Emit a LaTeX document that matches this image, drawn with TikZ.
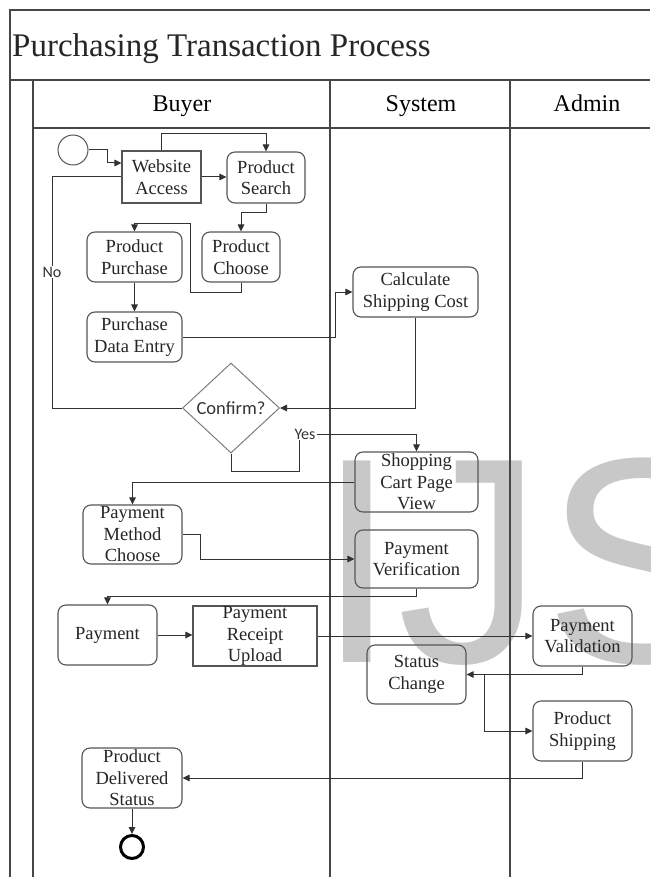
\documentclass[tikz,border=0pt]{standalone}
\usepackage{fontspec}
\setmainfont{Liberation Serif}
\newfontfamily\cfont{Carlito}
\newfontfamily\wmfont{Liberation Sans}
\usetikzlibrary{arrows.meta,shapes.geometric,calc}
\definecolor{ln}{RGB}{50,50,50}
\definecolor{bd}{RGB}{85,85,85}
\definecolor{lane}{RGB}{70,70,70}
\definecolor{wm}{RGB}{200,200,200}
\definecolor{dia}{RGB}{125,125,125}
\newcommand\ndtxt{\fontsize{18.5}{21.5}\selectfont}
\begin{document}
\begin{tikzpicture}[x=1pt,y=-1pt,
  box/.style={draw=bd,line width=1.1pt,rounded corners=8pt,align=center,inner sep=0pt,font=\ndtxt,text=black!85},
  sbox/.style={box,rounded corners=0pt},
  lanel/.style={draw=lane,line width=1.3pt},
  line/.style={draw=ln,line width=1pt},
  arr/.style={line,-{Triangle[length=7pt,width=6.5pt]}},
  lbl/.style={font=\cfont\fontsize{16}{16}\selectfont,text=black!80,inner sep=1pt},
  hdr/.style={font=\fontsize{24}{24}\selectfont,anchor=base,inner sep=0pt}]
\useasboundingbox (0,0) rectangle (650,877);
\fill[white] (0,0) rectangle (650,877);
% watermark
\begin{scope}
\clip (0,0) rectangle (650,877);
\node[anchor=base west,text=wm,font=\wmfont\fontsize{293}{293}\selectfont,inner sep=0pt] (wmk) at (316,662) {IJS};
\end{scope}
% frame and lanes
\draw[lanel] (650,10) -- (10,10) -- (10,877);
\draw[lanel] (10,80) -- (650,80);
\draw[lanel] (33,80) -- (33,877);
\draw[lanel] (33,128) -- (650,128);
\draw[lanel] (330,80) -- (330,877);
\draw[lanel] (510,80) -- (510,877);
\node[anchor=base west,font=\fontsize{33}{33}\selectfont,inner sep=0pt,text=black!85] (title) at (12,57) {Purchasing Transaction Process};
\node[hdr] (hbuyer) at (182,112) {Buyer};
\node[hdr] (hsystem) at (421,112) {System};
\node[hdr] (hadmin) at (587,112) {Admin};
% nodes
\node[circle,draw=bd,line width=1pt,minimum size=30pt,inner sep=0pt] (start) at (73,150) {};
\node[sbox,minimum width=79pt,minimum height=52pt] (wa) at (161.5,177) {Website\\Access};
\node[box,minimum width=78pt,minimum height=51pt] (ps) at (266,177.5) {Product\\Search};
\node[box,minimum width=78pt,minimum height=50pt] (pc) at (241,257) {Product\\Choose};
\node[box,minimum width=95pt,minimum height=50pt] (pp) at (134.5,257) {Product\\Purchase};
\node[box,minimum width=95pt,minimum height=50pt] (pde) at (134.5,337) {Purchase\\Data Entry};
\node[box,minimum width=125pt,minimum height=50pt] (csc) at (415.5,292) {Calculate\\Shipping Cost};
\node[diamond,draw=dia,line width=1pt,minimum width=97pt,minimum height=90pt,inner sep=0pt,font=\cfont\fontsize{18.5}{20}\selectfont,text=black!80] (confirm) at (231,408) {Confirm?};
\node[box,minimum width=123pt,minimum height=60pt] (scv) at (416.5,482) {Shopping\\Cart Page\\View};
\node[box,minimum width=123pt,minimum height=58pt] (pv) at (416.5,559) {Payment\\Verification};
\node[box,minimum width=99pt,minimum height=59pt] (pmc) at (132.5,534.5) {Payment\\Method\\Choose};
\node[box,minimum width=99pt,minimum height=60pt] (pay) at (107.5,635) {Payment};
\node[sbox,minimum width=124pt,minimum height=60pt] (pru) at (255,636) {Payment\\Receipt\\Upload};
\node[box,minimum width=99pt,minimum height=60pt] (pval) at (582.5,636) {Payment\\Validation};
\node[box,minimum width=99pt,minimum height=59pt] (sc) at (416.5,674.5) {Status\\Change};
\node[box,minimum width=99pt,minimum height=60pt] (pship) at (582.5,731) {Product\\Shipping};
\node[box,minimum width=100pt,minimum height=60pt] (pds) at (132,778) {Product\\Delivered\\Status};
\node[circle,draw=black,line width=3pt,minimum size=23pt,inner sep=0pt] (end) at (132,847) {};
% connectors
\draw[arr] (start.east) -- ++(19,0) |- ([yshift=14pt]wa.west);
\draw[arr] (wa.east) -- (wa.east -| ps.west);
\draw[arr] (wa.north) -- ++(0,-17) -| (ps.north);
\draw[arr] (ps.south) -- ++(0,9) -| (pc.north);
\draw[arr] (pc.south) -- ++(0,10) -| ++(-51,-69) -| (pp.north);
\draw[arr] (pp.south) -- (pde.north);
\draw[arr] (pde.east) -- ++(153,0) |- (csc.west);
\draw[arr] (csc.south) |- (confirm.east);
\draw[line] (confirm.west) -- ++(-130,0) |- (wa.west);
\node[lbl,fill=white] (no) at (52,272) {No};
\node[lbl] (yes) at (305,434) {Yes};
\draw[line] (confirm.south) -- ++(0,18) -| ([xshift=-6pt]yes.south);
\draw[arr] (yes.east) -| (scv.north);
\draw[arr] (scv.west) -| (pmc.north);
\draw[arr] (pmc.east) -- ++(18,0) |- (pv.west);
\draw[arr] (pv.south) -- ++(0,8) -| (pay.north);
\draw[arr] (pay.east) -- (pay.east -| pru.west);
\draw[arr] (pru.east) -- (pru.east -| pval.west);
\draw[arr] (pval.south) |- (sc.east);
\coordinate (split) at (484,674.5);
\draw[arr] (split) |- (pship.west);
\draw[arr] (pship.south) |- (pds.east);
\draw[arr] (pds.south) -- (end.north);
\end{tikzpicture}
\end{document}
